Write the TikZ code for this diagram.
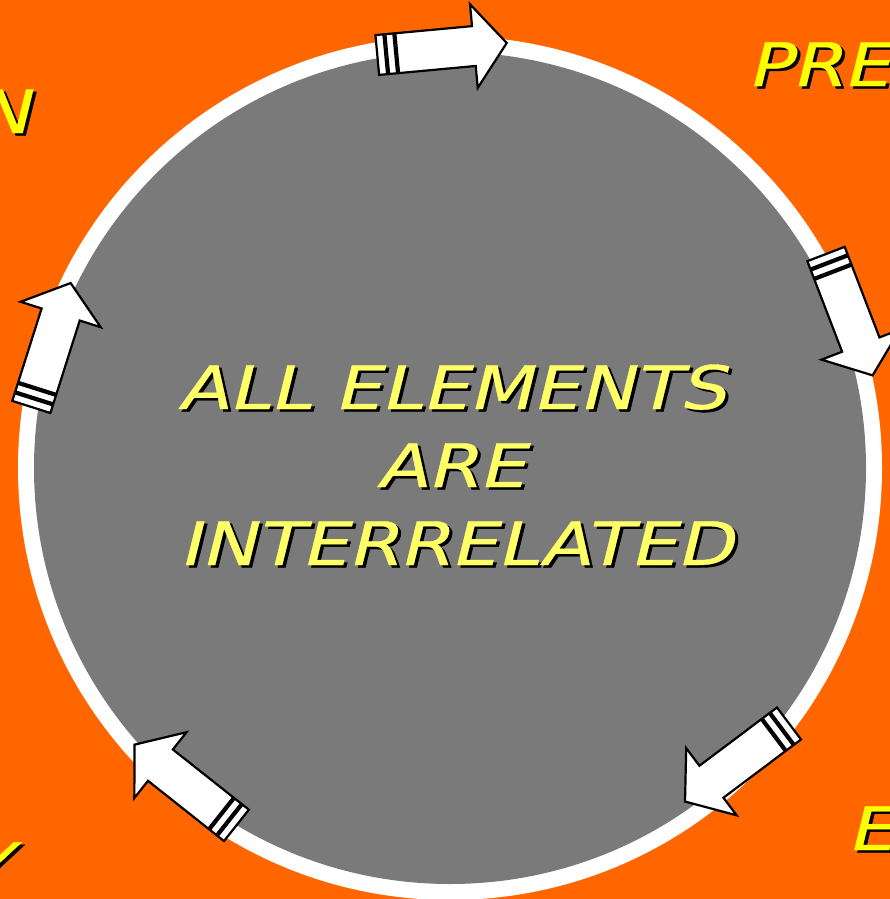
\documentclass[tikz,border=0pt]{standalone}
\usepackage{fontspec}
\setmainfont{DejaVu Sans}
\newfontfamily\thickob{DejaVu Sans}[FakeSlant=0.2, FakeBold=0.6]
\usepackage{graphicx}
\definecolor{bgorange}{HTML}{FF6600}
\definecolor{disc}{HTML}{7A7A7A}
\definecolor{softyellow}{HTML}{FFFF66}
\definecolor{hotyellow}{HTML}{FFFF00}
\newcommand{\shadowed}[1]{\scalebox{1.23}[1]{\rlap{\kern2.5pt\raisebox{-2.5pt}{\color{black}#1}}#1}}
\tikzset{
  arrline/.style={fill=white, draw=black, line width=2.2pt, line join=miter},
  cycarrow/.pic={
    \draw[arrline] (-65,-20) rectangle (-57,20);
    \draw[arrline] (-55,-20) rectangle (-47,20);
    \draw[arrline] (-45,-20) -- (32,-20) -- (32,-42) -- (65,0) -- (32,42) -- (32,20) -- (-45,20) -- cycle;
  },
  ctext/.style={inner sep=0pt, anchor=base, text=softyellow, font=\thickob\fontsize{60}{72}\selectfont},
  corner/.style={inner sep=0pt, text=hotyellow, font=\thickob\fontsize{60}{72}\selectfont},
}
\begin{document}
\begin{tikzpicture}[x=1pt, y=-1pt]
  \useasboundingbox (0,0) rectangle (890,899);
  \clip (0,0) rectangle (890,899);
  \fill[bgorange] (0,0) rectangle (890,899);
  \fill[white] (450,468) circle[radius=432];
  \fill[disc] (450,468) circle[radius=416];
  % arrows around the ring
  \pic[rotate=5.3] (atop) at (442,49) {cycarrow};
  \pic[rotate=-69] (aright) at (849.3,314.7) {cycarrow};
  \pic[rotate=216.9] (abr) at (737,762.5) {cycarrow};
  \pic[rotate=141.6] (abl) at (185.5,785) {cycarrow};
  \pic[rotate=72.4] (aleft) at (51,345) {cycarrow};
  % central text
  \node[ctext] (l1) at (452,409) {\shadowed{ALL ELEMENTS}};
  \node[ctext] (l2) at (451,487) {\shadowed{ARE}};
  \node[ctext] (l3) at (456,565) {\shadowed{INTERRELATED}};
  % corner labels
  \node[corner, anchor=base west] (tr) at (747,86) {\shadowed{PRE}};
  \node[corner, anchor=base east] (tl) at (30,133) {\shadowed{N}};
  \node[corner, anchor=base west] (br) at (847,850) {\shadowed{E}};
  \node[corner, anchor=base east] (bl) at (11,886) {\shadowed{Y}};
\end{tikzpicture}
\end{document}
